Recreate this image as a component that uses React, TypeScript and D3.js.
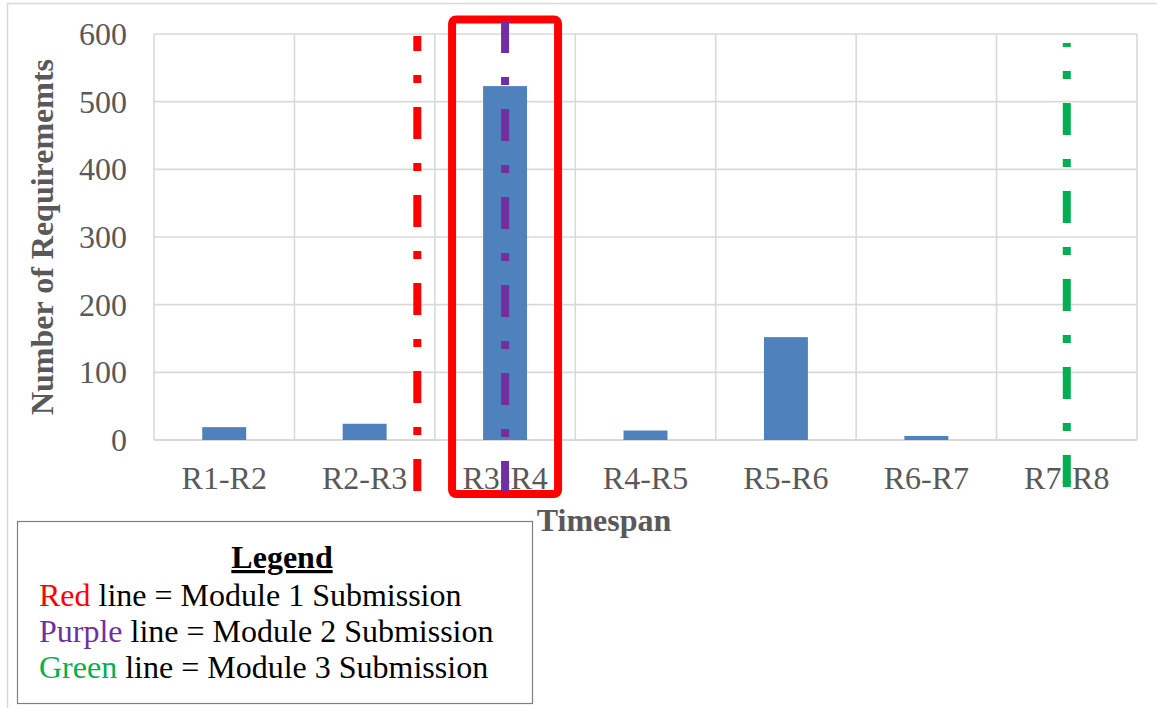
import React from "react";
import * as d3 from "d3";

// Requirements introduced per release timespan
const timespans = ["R1-R2", "R2-R3", "R3-R4", "R4-R5", "R5-R6", "R6-R7", "R7-R8"];
const requirementCounts = [19, 24, 523, 14, 152, 6, 0];
const yTicks = [0, 100, 200, 300, 400, 500, 600];

// Module submission markers, positioned in category units along the x axis
const submissionLabels = ["Red", "Purple", "Green"];
const submissionModules = ["Module 1 Submission", "Module 2 Submission", "Module 3 Submission"];
const submissionPositions = [1.875, 2.5, 6.5];
const highlightedTimespan = "R3-R4";

const WIDTH = 1157;
const HEIGHT = 708;
const plot = { left: 154, right: 1137, top: 34, bottom: 440 };
const colors = {
  bar: "#4F81BD",
  grid: "#D9D9D9",
  axisText: "#595959",
  markers: ["#FF0000", "#7030A0", "#00B050"],
  highlight: "#FF0000",
};
// Vertical extents and dash phase of each marker line (pixels)
const markerSpans = [
  { top: 36, bottom: 491, offset: 17 },
  { top: 21, bottom: 491, offset: 0 },
  { top: 43, bottom: 487, offset: 28 },
];
const FONT = "'Liberation Serif', 'Times New Roman', serif";
const FS = 32;

export default function App() {
  const x = d3
    .scaleBand<string>()
    .domain(timespans)
    .range([plot.left, plot.right])
    .padding(0);
  const step = x.step();
  const catX = d3
    .scaleLinear()
    .domain([0, timespans.length])
    .range([plot.left, plot.right]);
  const y = d3.scaleLinear().domain([0, 600]).range([plot.bottom, plot.top]);
  const barW = step * 0.313;

  const hx = (x(highlightedTimespan) ?? 0) + step / 2;

  return (
    <svg
      width={WIDTH}
      height={HEIGHT}
      style={{ position: "absolute", left: 0, top: 0, background: "#fff" }}
      fontFamily={FONT}
    >
      {/* chart area frame */}
      <rect x={7.5} y={3.5} width={1300} height={900} fill="#fff" stroke={colors.grid} strokeWidth={1.5} />

      {/* horizontal gridlines */}
      {yTicks.map((t) => (
        <line
          key={"h" + t}
          x1={plot.left}
          x2={plot.right}
          y1={y(t)}
          y2={y(t)}
          stroke={colors.grid}
          strokeWidth={t === 0 ? 2.2 : 1.6}
        />
      ))}
      {/* vertical gridlines at category boundaries */}
      {d3.range(timespans.length + 1).map((i) => (
        <line
          key={"v" + i}
          x1={catX(i)}
          x2={catX(i)}
          y1={plot.top}
          y2={plot.bottom}
          stroke={colors.grid}
          strokeWidth={1.6}
        />
      ))}

      {/* bars */}
      {timespans.map((c, i) => (
        <rect
          key={c}
          x={(x(c) ?? 0) + step / 2 - barW / 2}
          width={barW}
          y={y(requirementCounts[i])}
          height={y(0) - y(requirementCounts[i])}
          fill={colors.bar}
        />
      ))}

      {/* y tick labels */}
      {yTicks.map((t) => (
        <text
          key={"yt" + t}
          x={127}
          y={y(t) + 11}
          textAnchor="end"
          fontSize={FS}
          fill={colors.axisText}
        >
          {t}
        </text>
      ))}

      {/* x tick labels */}
      {timespans.map((c) => (
        <text
          key={"xt" + c}
          x={(x(c) ?? 0) + step / 2}
          y={489}
          textAnchor="middle"
          fontSize={FS}
          fill={colors.axisText}
        >
          {c}
        </text>
      ))}

      {/* axis titles */}
      <text
        transform={`translate(53, ${(plot.top + plot.bottom) / 2}) rotate(-90)`}
        textAnchor="middle"
        fontSize={FS}
        fontWeight="bold"
        fill={colors.axisText}
      >
        Number of Requirememts
      </text>
      <text x={604} y={531} textAnchor="middle" fontSize={FS} fontWeight="bold" fill={colors.axisText}>
        Timespan
      </text>

      {/* highlight around the peak timespan */}
      <rect
        x={hx - 53}
        y={19.5}
        width={106}
        height={474.5}
        rx={4}
        fill="none"
        stroke={colors.highlight}
        strokeWidth={8}
      />

      {/* module submission markers */}
      {submissionPositions.map((p, i) => (
        <line
          key={"m" + i}
          x1={catX(p)}
          x2={catX(p)}
          y1={markerSpans[i].top}
          y2={markerSpans[i].bottom}
          stroke={colors.markers[i]}
          strokeWidth={8}
          strokeDasharray="32 24 8 24"
          strokeDashoffset={markerSpans[i].offset}
        />
      ))}

      {/* legend */}
      <rect x={17.5} y={521.5} width={515} height={182} fill="#fff" stroke="#7F7F7F" strokeWidth={1.2} />
      <text x={282} y={568} textAnchor="middle" fontSize={FS} fontWeight="bold" fill="#000" textDecoration="underline">
        Legend
      </text>
      {submissionLabels.map((lab, i) => (
        <text key={"lg" + i} x={39} y={606 + i * 36} fontSize={FS} fill="#000">
          <tspan fill={colors.markers[i]}>{lab}</tspan>
          <tspan>{" line = " + submissionModules[i]}</tspan>
        </text>
      ))}
    </svg>
  );
}
